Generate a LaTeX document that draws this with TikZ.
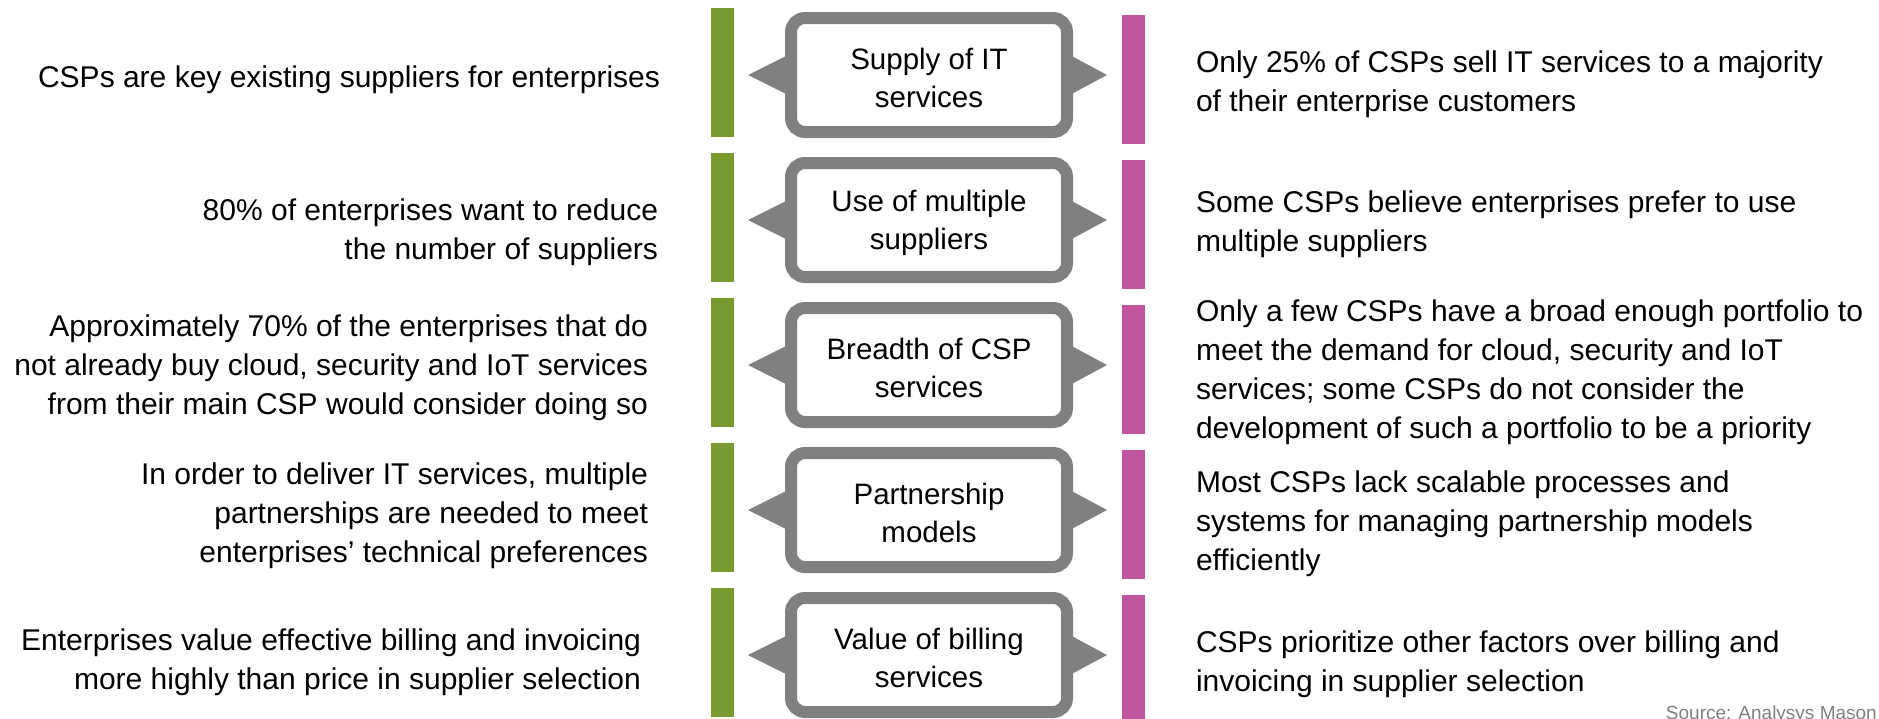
\documentclass[tikz,border=0pt]{standalone}
\usepackage{fontspec}
\setmainfont{Liberation Sans}
\usetikzlibrary{calc}
\definecolor{barGreen}{HTML}{789A2E}
\definecolor{barMagenta}{HTML}{C1559F}
\definecolor{boxGray}{HTML}{808080}
\definecolor{srcGray}{HTML}{7F7F7F}
\tikzset{
  txt/.style={inner sep=0pt, outer sep=0pt, font=\fontsize{30}{39}\selectfont, yshift=-3pt},
  lefttxt/.style={txt, anchor=east, align=right},
  righttxt/.style={txt, anchor=west, align=left},
  boxtxt/.style={inner sep=0pt, outer sep=0pt, align=center, font=\fontsize{29.5}{38.5}\selectfont},
  gbar/.style={fill=barGreen, inner sep=0pt, outer sep=0pt, minimum width=23, minimum height=129},
  mbar/.style={fill=barMagenta, inner sep=0pt, outer sep=0pt, minimum width=23, minimum height=129},
  topic/.style={draw=boxGray, line width=12pt, fill=white, rounded corners=14pt,
    minimum width=276, minimum height=114, inner sep=0pt},
  pointer/.style={fill=boxGray}
}
\begin{document}
\begin{tikzpicture}[x=1pt, y=-1pt]
\useasboundingbox (0,0) rectangle (1879,718);

% bars
\node[gbar] (g1) at (722.5,72.5) {};
\node[gbar] (g2) at (722.5,217.5) {};
\node[gbar] (g3) at (722.5,362.5) {};
\node[gbar] (g4) at (722.5,507.5) {};
\node[gbar] (g5) at (722.5,652.5) {};
\node[mbar] (m1) at (1133.5,79.5) {};
\node[mbar] (m2) at (1133.5,224.5) {};
\node[mbar] (m3) at (1133.5,369.5) {};
\node[mbar] (m4) at (1133.5,514.5) {};
\node[mbar] (m5) at (1133.5,659.5) {};

% pointer triangles and topic boxes
\foreach \n/\y in {1/75,2/220,3/365,4/510,5/655}{
  \fill[pointer] (791,\y-21.5) -- (748,\y) -- (791,\y+21.5) -- cycle;
  \fill[pointer] (1067,\y-21.5) -- (1107,\y) -- (1067,\y+21.5) -- cycle;
}
\node[topic] (b1) at (929,75) {};
\node[topic] (b2) at (929,220) {};
\node[topic] (b3) at (929,365) {};
\node[topic] (b4) at (929,510) {};
\node[topic] (b5) at (929,655) {};
\node[boxtxt] (t1) at ([yshift=-3pt]b1.center) {Supply of IT\\services};
\node[boxtxt] (t2) at ([yshift=-3pt]b2.center) {Use of multiple\\suppliers};
\node[boxtxt] (t3) at ([yshift=-3pt]b3.center) {Breadth of CSP\\services};
\node[boxtxt] (t4) at ([yshift=-3pt]b4.center) {Partnership\\models};
\node[boxtxt] (t5) at ([yshift=-3pt]b5.center) {Value of billing\\services};

% left texts
\node[lefttxt] (l1) at (660,77) {CSPs are key existing suppliers for enterprises};
\node[lefttxt] (l2) at (658,229) {80\% of enterprises want to reduce\\the number of suppliers};
\node[lefttxt] (l3) at (648,365) {Approximately 70\% of the enterprises that do\\not already buy cloud, security and IoT services\\from their main CSP would consider doing so};
\node[lefttxt] (l4) at (648,513) {In order to deliver IT services, multiple\\partnerships are needed to meet\\enterprises’ technical preferences};
\node[lefttxt] (l5) at (641,659) {Enterprises value effective billing and invoicing\\more highly than price in supplier selection};

% right texts
\node[righttxt] (r1) at (1196,81) {Only 25\% of CSPs sell IT services to a majority\\of their enterprise customers};
\node[righttxt] (r2) at (1196,221) {Some CSPs believe enterprises prefer to use\\multiple suppliers};
\node[righttxt] (r3) at (1196,369) {Only a few CSPs have a broad enough portfolio to\\meet the demand for cloud, security and IoT\\services; some CSPs do not consider the\\development of such a portfolio to be a priority};
\node[righttxt] (r4) at (1196,521) {Most CSPs lack scalable processes and\\systems for managing partnership models\\efficiently};
\node[righttxt] (r5) at (1196,661) {CSPs prioritize other factors over billing and\\invoicing in supplier selection};

% source
\node[inner sep=0pt, anchor=base east, text=srcGray, font=\fontsize{19}{22}\selectfont] (src) at (1877,719) {Source: Analysys Mason};
\end{tikzpicture}
\end{document}
